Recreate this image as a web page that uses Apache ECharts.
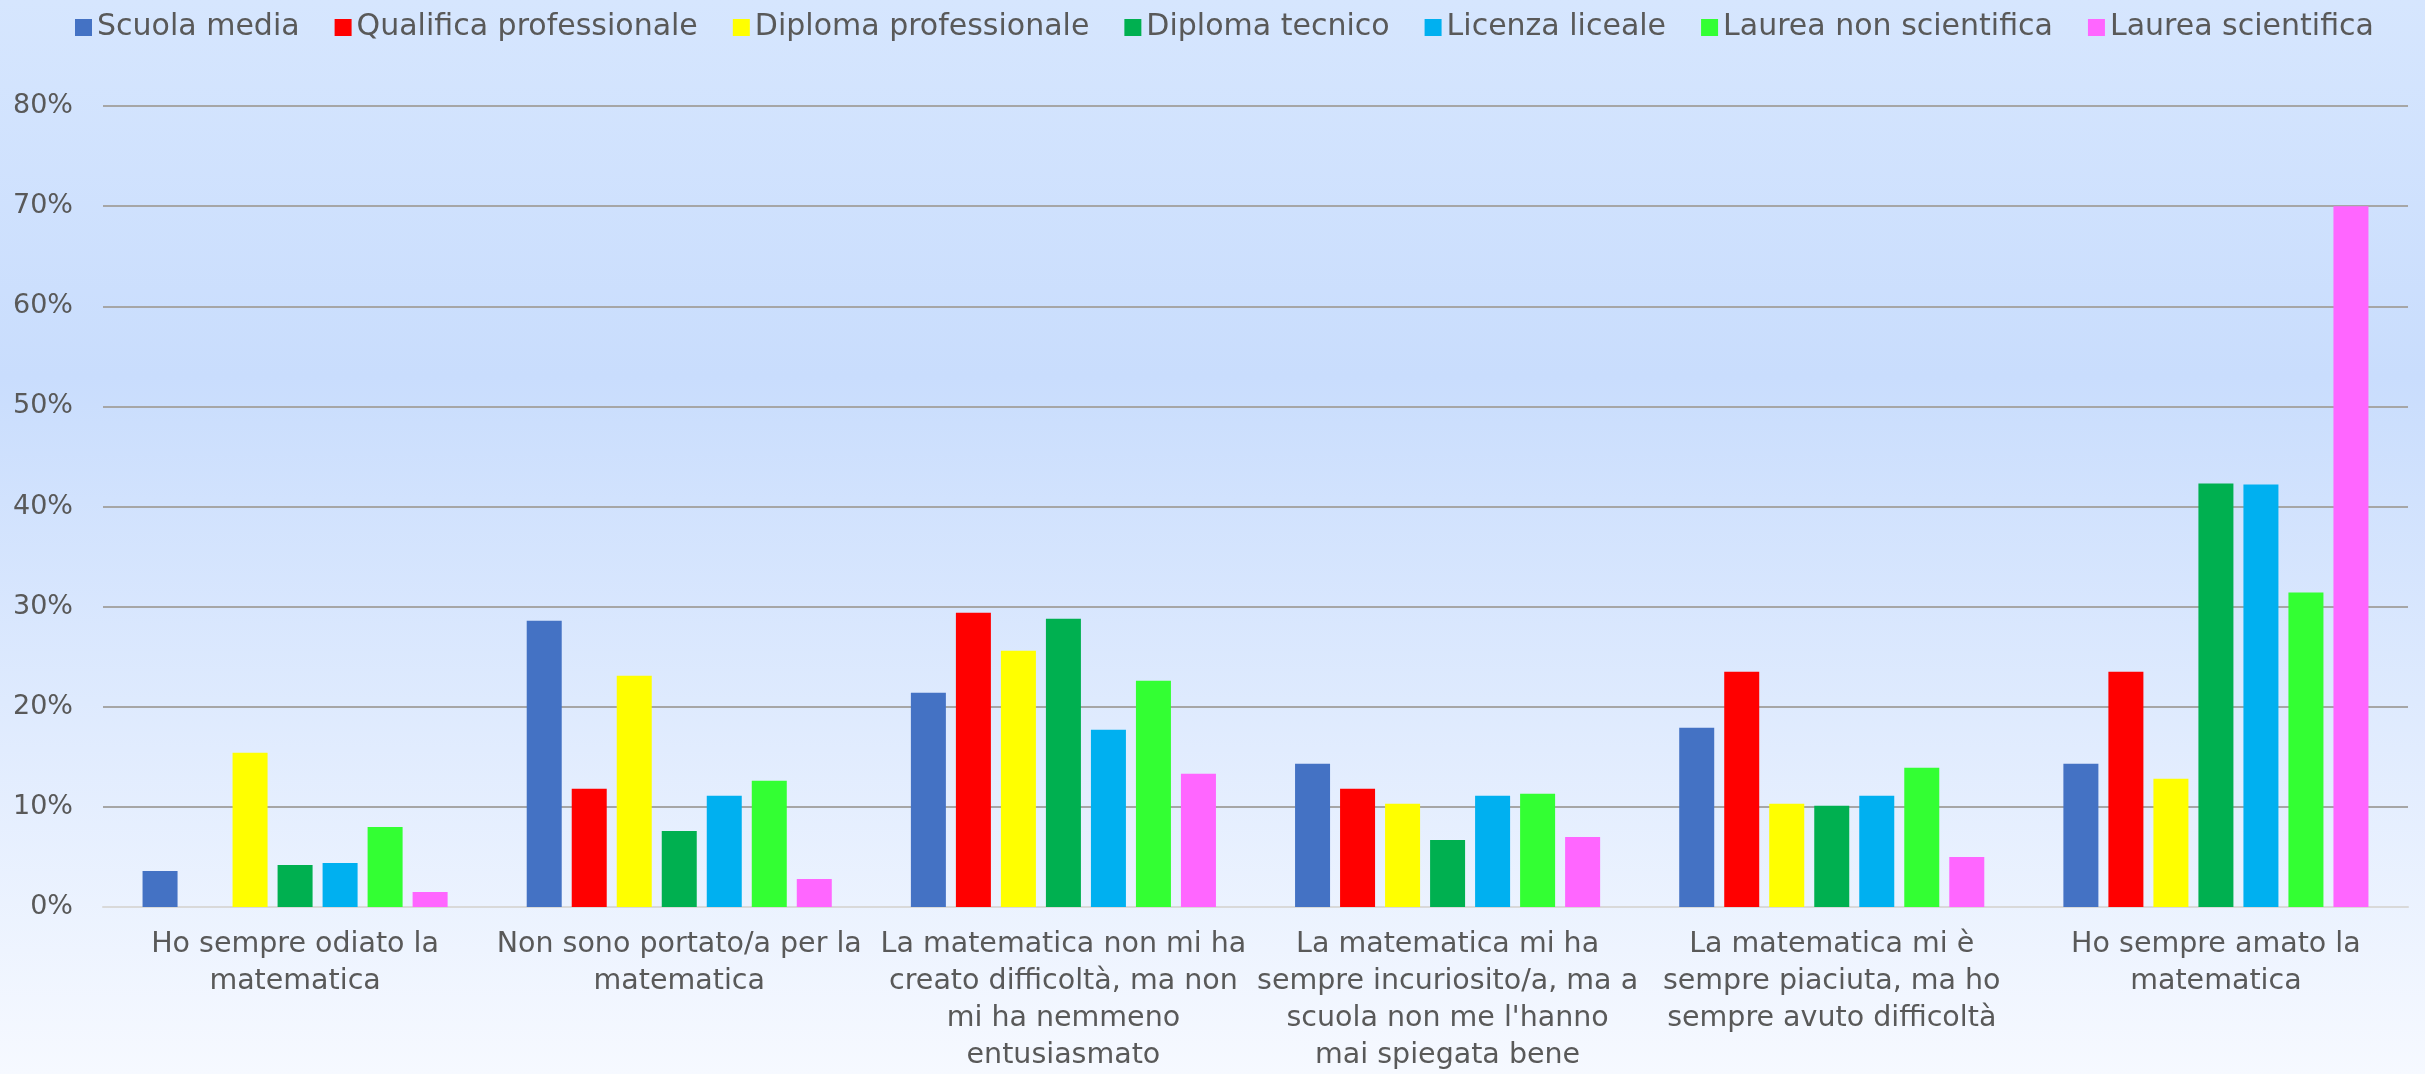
<!DOCTYPE html>
<html>
<head>
<meta charset="utf-8">
<script src="https://cdn.jsdelivr.net/npm/echarts@6/dist/echarts.min.js"></script>
<style>
  html, body { margin: 0; padding: 0; }
  #main { width: 2425px; height: 1074px; }
</style>
</head>
<body>
<div id="main"></div>
<script>
var categories = [
  'Ho sempre odiato la\nmatematica',
  'Non sono portato/a per la\nmatematica',
  'La matematica non mi ha\ncreato difficoltà, ma non\nmi ha nemmeno\nentusiasmato',
  'La matematica mi ha\nsempre incuriosito/a, ma a\nscuola non me l\'hanno\nmai spiegata bene',
  'La matematica mi è\nsempre piaciuta, ma ho\nsempre avuto difficoltà',
  'Ho sempre amato la\nmatematica'
];
var seriesNames = ['Scuola media', 'Qualifica professionale', 'Diploma professionale', 'Diploma tecnico', 'Licenza liceale', 'Laurea non scientifica', 'Laurea scientifica'];
var scuolaMedia = [3.6, 28.6, 21.4, 14.3, 17.9, 14.3];
var qualifica = [0, 11.8, 29.4, 11.8, 23.5, 23.5];
var diplomaProf = [15.4, 23.1, 25.6, 10.3, 10.3, 12.8];
var diplomaTecnico = [4.2, 7.6, 28.8, 6.7, 10.1, 42.3];
var licenzaLiceale = [4.4, 11.1, 17.7, 11.1, 11.1, 42.2];
var laureaNonSci = [8.0, 12.6, 22.6, 11.3, 13.9, 31.4];
var laureaSci = [1.5, 2.8, 13.3, 7.0, 5.0, 70.0];
var yTicks = [0, 10, 20, 30, 40, 50, 60, 70, 80];

var color = ['#4472c4', '#ff0000', '#ffff00', '#00b050', '#00b0f0', '#33ff33', '#ff66ff'];
var values = [scuolaMedia, qualifica, diplomaProf, diplomaTecnico, licenzaLiceale, laureaNonSci, laureaSci];
var font = 'DejaVu Sans';

var series = seriesNames.map(function (name, i) {
  return {
    name: name,
    type: 'bar',
    barWidth: 35,
    barGap: '28.6%',
    data: values[i]
  };
});

var option = {
  backgroundColor: {
    type: 'linear', x: 0, y: 0, x2: 0, y2: 1,
    colorStops: [
      {offset: 0, color: '#d6e6fe'},
      {offset: 0.35, color: '#c9ddfd'},
      {offset: 1, color: '#f6f9ff'}
    ]
  },
  color: color,
  animation: false,
  legend: {
    left: 70,
    top: 5,
    itemWidth: 17,
    itemHeight: 17,
    itemGap: 35,
    icon: 'rect',
    textStyle: {
      color: '#595959',
      fontFamily: font,
      fontSize: 30,
      lineHeight: 35
    },
    data: seriesNames
  },
  grid: {
    left: 103,
    right: 17,
    top: 106,
    bottom: 161
  },
  xAxis: {
    type: 'category',
    data: categories,
    axisTick: {show: false},
    axisLine: {
      lineStyle: {color: '#d9d9d9', width: 2}
    },
    axisLabel: {
      interval: 0,
      margin: 19,
      color: '#595959',
      fontFamily: font,
      fontSize: 28.5,
      lineHeight: 37
    }
  },
  yAxis: {
    type: 'value',
    min: yTicks[0],
    max: yTicks[yTicks.length - 1],
    interval: 10,
    axisLine: {show: false},
    axisTick: {show: false},
    splitLine: {
      lineStyle: {color: '#a6a6a6', width: 2}
    },
    axisLabel: {
      margin: 30,
      color: '#595959',
      fontFamily: font,
      fontSize: 27,
      formatter: '{value}%'
    }
  },
  series: series
};

var myChart = echarts.init(document.getElementById('main'));
myChart.setOption(option);
</script>
</body>
</html>
